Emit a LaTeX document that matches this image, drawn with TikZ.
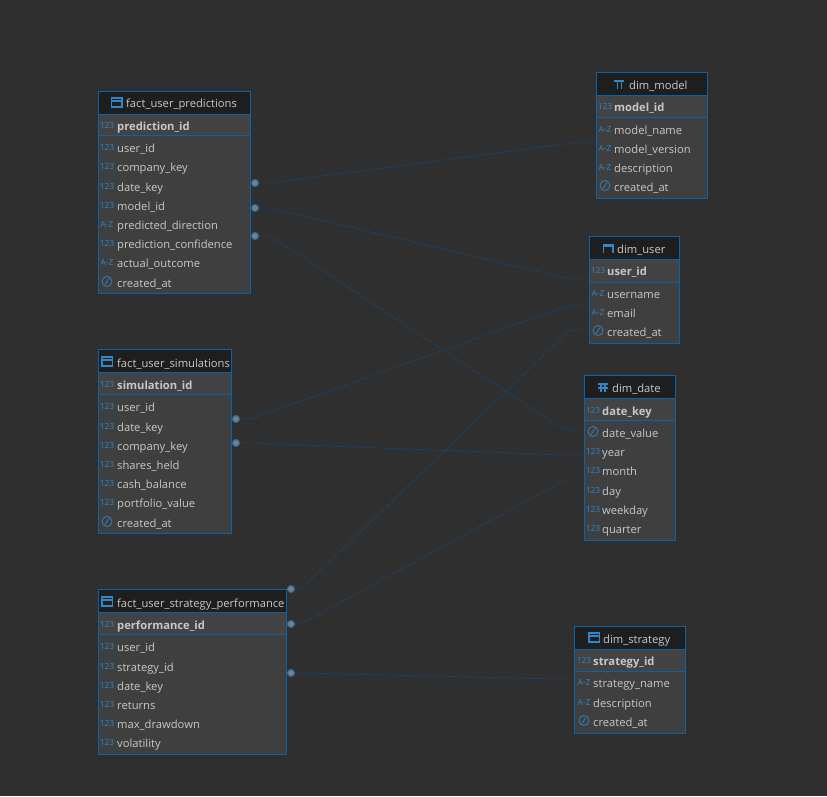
\documentclass[tikz,border=0pt]{standalone}
\usepackage{fontspec}
\setmainfont{Open Sans}
\definecolor{bgc}{HTML}{2F2F2F}
\definecolor{bodyc}{HTML}{3F3F3F}
\definecolor{pkc}{HTML}{434343}
\definecolor{headc}{HTML}{1E1E1E}
\definecolor{edgec}{HTML}{0A62A8}
\definecolor{linkc}{HTML}{0E4F84}
\definecolor{iconc}{HTML}{2F86C8}
\definecolor{textc}{HTML}{C8C8C8}
\definecolor{dotc}{HTML}{78808A}
\definecolor{ringc}{HTML}{2A6A9A}
\tikzset{
  tbl/.style={draw=edgec,line width=1pt},
  title/.style={anchor=base west,inner sep=0pt,text=textc,font=\fontsize{11.2}{11}\selectfont},
  colname/.style={anchor=base west,inner sep=0pt,text=textc,font=\fontsize{11.2}{11}\selectfont},
  pkname/.style={colname,font=\fontsize{11.2}{11}\selectfont\bfseries},
  typetxt/.style={inner sep=0pt,text=iconc,font=\fontsize{8.4}{8.4}\selectfont},
  clock/.style={circle,draw=iconc,line width=.7pt,inner sep=0pt,minimum size=10pt},
  dot/.style={circle,draw=ringc,line width=1.1pt,fill=dotc,inner sep=0pt,minimum size=7pt},
  link/.style={draw=linkc,line width=.8pt,densely dotted},
}
\newcommand{\ertable}[7]{% name, x1, x2, y top, y head, y pk, y bottom
  \fill[bodyc] (#2-.5,#4-.5) rectangle (#3,#7);
  \fill[pkc] (#2-.5,#5) rectangle (#3,#6);
  \fill[headc] (#2-.5,#4-.5) rectangle (#3,#5);
  \draw[tbl] (#2-.5,#4-.5) rectangle (#3,#7);
  \draw[tbl] (#2-.5,#5) -- (#3,#5);
  \draw[tbl] (#2-.5,#6) -- (#3,#6);
}
\newcommand{\inum}[2]{\node[typetxt] (n#2) at (#1,#2-1) {123};}
\newcommand{\istr}[2]{\node[typetxt] (n#2) at (#1,#2-1) {A-Z};}
\newcommand{\idat}[2]{\node[clock] (n#2) at (#1,#2-1.5) {};
  \draw[iconc,line width=.7pt] (n#2.center) ++(-2,3) -- ++(4,-6);}
\newcommand{\icbar}[2]{\draw[iconc,line width=1.2pt] (#1,#2-5) rectangle (#1+10.5,#2+4);
  \draw[iconc,line width=2pt] (#1,#2-2) -- (#1+10.5,#2-2);}
\begin{document}
\begin{tikzpicture}[x=1pt,y=-1pt]
  \fill[bgc] (0,0) rectangle (827,796);
  \useasboundingbox (0,0) rectangle (827,796);

  % connectors first, the tables go on top
  \node[dot] (d1) at (255,183) {};
  \node[dot] (d2) at (255,208) {};
  \node[dot] (d3) at (255,236) {};
  \node[dot] (d4) at (236,419) {};
  \node[dot] (d5) at (236,443) {};
  \node[dot] (d6) at (291,589) {};
  \node[dot] (d7) at (291,624) {};
  \node[dot] (d8) at (291,673) {};
  \coordinate (e1) at (595,143);
  \coordinate (e2) at (589,279);
  \coordinate (e3) at (583,430);
  \coordinate (e4) at (589,305);
  \coordinate (e5) at (584,455);
  \coordinate (e6) at (589,330);
  \coordinate (e7) at (584,480);
  \coordinate (e8) at (574,679);
  \draw[link] (d1) -- ++(15,0) -- (572,143) -- (e1);
  \draw[link] (d2) -- ++(15,0) -- (570,279) -- (e2);
  \draw[link] (d3) -- ++(15,0) -- (565,430) -- (e3);
  \draw[link] (d4) -- ++(15,0) -- (570,305) -- (e4);
  \draw[link] (d5) -- ++(15,0) -- (565,455) -- (e5);
  \draw[link] (d6) -- ++(10,0) -- (570,330) -- (e6);
  \draw[link] (d7) -- ++(10,0) -- (565,480) -- (e7);
  \draw[link] (d8) -- ++(10,0) -- (555,679) -- (e8);

  % fact tables
  \ertable{pred}{99}{250}{92}{114}{135}{293}
  \icbar{111.5}{103}
  \node[title] (pred) at (126,107) {fact\_user\_predictions};
  \node[pkname] (predpk) at (117,130) {prediction\_id};
  \inum{107}{126}
  \foreach \ic/\nm/\yy in {\inum/user\_id/148,\inum/company\_key/167,\inum/date\_key/187,\inum/model\_id/206,\istr/predicted\_direction/225,\inum/prediction\_confidence/244,\istr/actual\_outcome/263,\idat/created\_at/283}
    {\node[colname] (c\yy) at (117,\yy+4) {\nm}; \ic{107}{\yy}}

  \ertable{sim}{99}{231}{350}{372}{394}{533}
  \icbar{102}{362}
  \node[title] (sim) at (117,367) {fact\_user\_simulations};
  \node[pkname] (simpk) at (117,389) {simulation\_id};
  \inum{107}{385}
  \foreach \ic/\nm/\yy in {\inum/user\_id/407,\inum/date\_key/427,\inum/company\_key/446,\inum/shares\_held/465,\inum/cash\_balance/484,\inum/portfolio\_value/503,\idat/created\_at/523}
    {\node[colname] (c\yy) at (117,\yy+4) {\nm}; \ic{107}{\yy}}

  \ertable{perf}{99}{286}{590}{612}{634}{754}
  \icbar{102}{602}
  \node[title] (perf) at (117,607) {fact\_user\_strategy\_performance};
  \node[pkname] (perfpk) at (117,629) {performance\_id};
  \inum{107}{625}
  \foreach \ic/\nm/\yy in {\inum/user\_id/647,\inum/strategy\_id/667,\inum/date\_key/686,\inum/returns/705,\inum/max\_drawdown/724,\inum/volatility/743}
    {\node[colname] (c\yy) at (117,\yy+4) {\nm}; \ic{107}{\yy}}

  % dimension tables
  \ertable{model}{597}{707}{73}{95}{117}{198}
  \draw[iconc,line width=1.2pt] (614,81) -- (624,81) (617.5,81) -- (617.5,89) (621.5,81) -- (621.5,89);
  \node[title] (model) at (629,89) {dim\_model};
  \node[pkname] (modelpk) at (614,111) {model\_id};
  \inum{605}{107}
  \foreach \ic/\nm/\yy in {\istr/model\_name/130,\istr/model\_version/149,\istr/description/168,\idat/created\_at/187}
    {\node[colname] (c\yy) at (614,\yy+4) {\nm}; \ic{605}{\yy}}

  \ertable{user}{590}{679}{237}{259}{282}{343}
  \draw[iconc,line width=1.2pt] (603.5,253) -- (603.5,245) -- (613,245) -- (613,253);
  \draw[iconc,line width=1.2pt] (603.5,246) -- (613,246);
  \node[title] (user) at (617,253) {dim\_user};
  \node[pkname] (userpk) at (607,275) {user\_id};
  \inum{598}{271}
  \foreach \ic/\nm/\yy in {\istr/username/294,\istr/email/313,\idat/created\_at/332}
    {\node[colname] (c\yy) at (607,\yy+4) {\nm}; \ic{598}{\yy}}

  \ertable{date}{585}{675}{376}{398}{420}{540}
  \draw[iconc,line width=1.2pt] (598,384) -- (608,384) (598,388) -- (608,388) (601,384) -- (601,392) (605,384) -- (605,392);
  \node[title] (date) at (612,392) {dim\_date};
  \node[pkname] (datepk) at (602,415) {date\_key};
  \inum{593}{411}
  \foreach \ic/\nm/\yy in {\idat/date\_value/433,\inum/year/452,\inum/month/471,\inum/day/491,\inum/weekday/510,\inum/quarter/529}
    {\node[colname] (c\yy) at (602,\yy+4) {\nm}; \ic{593}{\yy}}

  \ertable{strategy}{575}{685}{627}{649}{671}{733}
  \icbar{589}{638}
  \node[title] (strategy) at (603,643) {dim\_strategy};
  \node[pkname] (strategypk) at (593,665) {strategy\_id};
  \inum{584}{661}
  \foreach \ic/\nm/\yy in {\istr/strategy\_name/683,\istr/description/703,\idat/created\_at/722}
    {\node[colname] (c\yy) at (593,\yy+4) {\nm}; \ic{584}{\yy}}
\end{tikzpicture}
\end{document}
